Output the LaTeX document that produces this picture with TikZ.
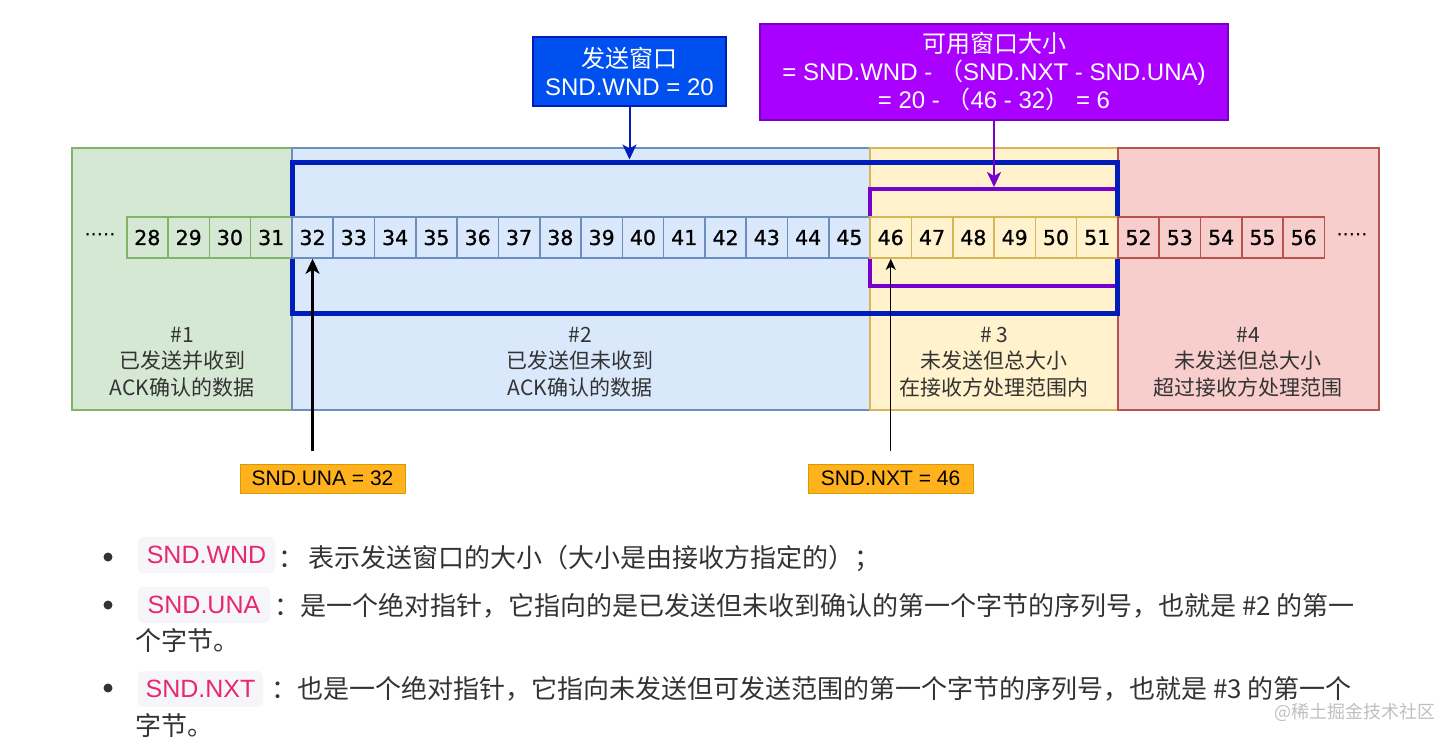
\documentclass[tikz,border=0pt]{standalone}
\usepackage{fontspec}
\setmainfont{Liberation Sans}
\newfontfamily\cjk{Noto Sans CJK SC}
\newfontfamily\dejavu{DejaVu Sans}
\newfontfamily\cellfont{DejaVu Sans}[BoldFont={DejaVu Sans},BoldFeatures={FakeBold=1.0}]
\usetikzlibrary{arrows.meta,positioning}
\definecolor{ackgreen}{HTML}{D5E8D4}
\definecolor{ackgreenline}{HTML}{82B366}
\definecolor{sentblue}{HTML}{DAE8FC}
\definecolor{sentblueline}{HTML}{6C8EBF}
\definecolor{usableyel}{HTML}{FFF2CC}
\definecolor{usableyelline}{HTML}{D6B656}
\definecolor{outred}{HTML}{F8CECC}
\definecolor{outredline}{HTML}{B85450}
\definecolor{wndblue}{HTML}{001DBC}
\definecolor{wndfill}{HTML}{0050EF}
\definecolor{usepurple}{HTML}{7700CC}
\definecolor{usefill}{HTML}{AA00FF}
\definecolor{ptrorange}{HTML}{FFB21E}
\definecolor{ptrline}{HTML}{D79B00}
\definecolor{codepink}{HTML}{E8286E}
\definecolor{codebg}{HTML}{F6F6F8}
\definecolor{bodytext}{HTML}{333333}

\begin{document}
\begin{tikzpicture}[x=1pt,y=-1pt]
  \tikzstyle{region}=[draw,line width=1.8pt,inner sep=0pt,minimum height=262pt]
  \tikzstyle{cell}=[draw,line width=1.6pt,minimum width=41.3pt,minimum height=41pt,inner sep=0pt,
    font=\cellfont\bfseries\fontsize{20.5}{22}\selectfont]
  \tikzstyle{lab}=[align=center,font=\cjk\fontsize{21}{26.5}\selectfont,text=bodytext]
  \tikzstyle{topbox}=[draw,line width=1.2pt,align=center,text=white,inner sep=0pt,
    font=\fontsize{24}{28}\selectfont]
  \tikzstyle{ptr}=[draw=ptrline,fill=ptrorange,line width=1pt,minimum width=165pt,
    minimum height=29pt,inner sep=0pt,font=\fontsize{21}{24}\selectfont]
  \tikzstyle{codebox}=[fill=codebg,rounded corners=5pt,minimum height=36pt,inner sep=0pt,
    text=codepink,font=\fontsize{25}{28}\selectfont]
  \tikzstyle{bodytxt}=[anchor=base west,inner sep=0pt,text=bodytext,font=\cjk\fontsize{26}{30}\selectfont]
  \tikzstyle{bul}=[circle,fill=bodytext,inner sep=0pt,minimum size=9pt]
  \tikzstyle{f}=[-{Stealth[length=15pt,width=14pt,inset=4pt]}]
  \tikzstyle{fs}=[-{Stealth[length=11pt,width=10pt,inset=3pt]}]

  \useasboundingbox (0,0) rectangle (1456,744);

  % -- four regions --
  \node[region,draw=ackgreenline,fill=ackgreen,minimum width=220pt] (r1) at (182,279) {};
  \node[region,draw=sentblueline,fill=sentblue,minimum width=578pt] (r2) at (581,279) {};
  \node[region,draw=usableyelline,fill=usableyel,minimum width=248pt] (r3) at (994,279) {};
  \node[region,draw=outredline,fill=outred,minimum width=261pt] (r4) at (1248.5,279) {};

  % -- usable window and send window --
  \node[draw=usepurple,line width=4pt,minimum width=247.5pt,minimum height=96.7pt,inner sep=0pt]
    (usewin) at (993.75,237.35) {};
  \node[draw=wndblue,line width=5pt,minimum width=825.5pt,minimum height=151.7pt,inner sep=0pt]
    (sndwin) at (704.75,237.85) {};

  % -- byte cells --
  \foreach \i in {28,...,31}
    \node[cell,draw=ackgreenline,fill=ackgreen] (c\i) at ({147.35+(\i-28)*41.3},237.5) {\i};
  \foreach \i in {32,...,45}
    \node[cell,draw=sentblueline,fill=sentblue] (c\i) at ({147.35+(\i-28)*41.3},237.5) {\i};
  \foreach \i in {46,...,51}
    \node[cell,draw=usableyelline,fill=usableyel] (c\i) at ({147.35+(\i-28)*41.3},237.5) {\i};
  \foreach \i in {52,...,56}
    \node[cell,draw=outredline,fill=outred] (c\i) at ({147.35+(\i-28)*41.3},237.5) {\i};
  \node[font=\dejavu\fontsize{19.5}{20}\selectfont,inner sep=0pt] (ldots) at (100,238) {·····};
  \node[font=\dejavu\fontsize{19.5}{20}\selectfont,inner sep=0pt] (rdots) at (1352,238) {·····};

  % -- region labels --
  \node[lab] (lab1) at (182,362) {\#1\\已发送并收到\\ACK确认的数据};
  \node[lab] (lab2) at (580,362) {\#2\\已发送但未收到\\ACK确认的数据};
  \node[lab] (lab3) at (994,362) {\# 3\\未发送但总大小\\在接收方处理范围内};
  \node[lab] (lab4) at (1248,362) {\#4\\未发送但总大小\\超过接收方处理范围};

  % -- window boxes --
  \node[topbox,draw=wndblue,fill=wndfill,minimum width=193pt,minimum height=69pt]
    (wndbox) at (629.5,71.5) {{\cjk 发送窗口}\\SND.WND = 20};
  \node[topbox,draw=usepurple,fill=usefill,minimum width=468pt,minimum height=96pt]
    (usebox) at (994,72) {{\cjk 可用窗口大小}\\= SND.WND - {\cjk （}SND.NXT - SND.UNA)\\= 20 - {\cjk （}46 - 32{\cjk ）} = 6};
  \draw[f,wndblue,line width=2pt] (wndbox.south) -- (wndbox.south |- sndwin.north);
  \draw[f,usepurple,line width=2pt] (usebox.south) -- (usebox.south |- usewin.north);

  % -- pointers --
  \node[ptr] (una) at (322.5,478.5) {SND.UNA = 32};
  \node[ptr] (nxt) at (890.5,478.5) {SND.NXT = 46};
  \draw[f,line width=2.2pt,shorten <=13pt] (una.north -| c32) -- (c32.south);
  \draw[fs,line width=1.4pt,shorten <=13pt] (nxt.north -| c46) -- (c46.south);

  % -- notes --
  \node[bul] (b1) at (108,557) {};
  \node[codebox,minimum width=137pt] (k1) at (206.5,555) {SND.WND};
  \node[bodytxt] (t1) at (278,567) {：\,表示发送窗口的大小（大小是由接收方指定的）；};
  \node[bul] (b2) at (108,605) {};
  \node[codebox,minimum width=132pt] (k2) at (204,605) {SND.UNA};
  \node[bodytxt] (t2) at (274,615) {：是一个绝对指针，它指向的是已发送但未收到确认的第一个字节的序列号，也就是 \#2 的第一};
  \node[bodytxt] (t2b) at (135,650) {个字节。};
  \node[bul] (b3) at (108,688) {};
  \node[codebox,minimum width=125pt] (k3) at (200.5,689) {SND.NXT};
  \node[bodytxt] (t3) at (271,698) {：也是一个绝对指针，它指向未发送但可发送范围的第一个字节的序列号，也就是 \#3 的第一个};
  \node[bodytxt] (t3b) at (135,735) {字节。};
  \node[font=\cjk\fontsize{18}{20}\selectfont,text=black!25,anchor=east,inner sep=0pt] (mark) at (1436,712) {@稀土掘金技术社区};
\end{tikzpicture}
\end{document}
